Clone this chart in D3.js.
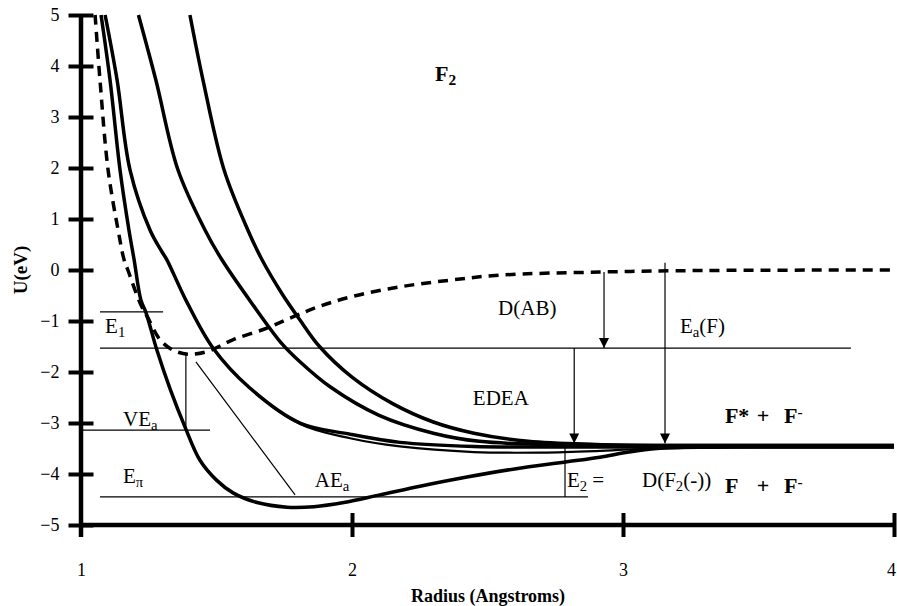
<html>
<head>
<script src="https://d3js.org/d3.v7.min.js"></script>
<style>
body { margin: 0; background: white; }
text { font-family: "Liberation Serif", "Times New Roman", Times, serif; fill: black; }
.curve { fill: none; stroke: black; stroke-width: 3.5; stroke-linejoin: round; }
.thin { stroke: black; stroke-width: 1.2; fill: none; }
.lbl { font-size: 21px; }
.big { font-size: 22px; font-weight: bold; }
</style>
</head>
<body>
<svg width="897" height="606"></svg>
<script>
// potential curves, [radius, energy]
var ground = [[1.074,5],[1.107,3.73],[1.144,1.96],[1.177,0.78],[1.196,0.2],[1.221,-0.59],[1.24,-0.84],[1.28,-1.57],[1.33,-2.35],[1.384,-3.08],[1.439,-3.73],[1.5,-4.12],[1.561,-4.37],[1.65,-4.56],[1.76,-4.65],[1.86,-4.64],[1.97,-4.56],[2.103,-4.41],[2.26,-4.23],[2.424,-4.06],[2.6,-3.9],[2.793,-3.76],[2.915,-3.67],[3.02,-3.57],[3.125,-3.5],[3.3,-3.47],[4,-3.46]];
var neutral = [[1.052,5],[1.07,3.73],[1.10,1.96],[1.137,0.78],[1.159,0.2],[1.173,0],[1.218,-0.65],[1.247,-0.94],[1.292,-1.37],[1.339,-1.57],[1.395,-1.65],[1.465,-1.6],[1.56,-1.37],[1.686,-1.14],[1.782,-0.92],[1.871,-0.73],[1.993,-0.53],[2.177,-0.33],[2.362,-0.2],[2.546,-0.1],[2.915,-0.04],[3.3,-0.01],[4,0]];
var stateB1 = [[1.089,5],[1.133,3.73],[1.181,1.96],[1.255,0.78],[1.295,0.39],[1.317,0.2],[1.387,-0.59],[1.487,-1.53],[1.62,-2.3],[1.808,-3.0],[1.993,-3.22],[2.177,-3.38],[2.45,-3.46],[2.8,-3.47],[4,-3.47]];
var stateB2 = [[1.089,5],[1.133,3.73],[1.181,1.96],[1.255,0.78],[1.295,0.39],[1.317,0.2],[1.387,-0.59],[1.487,-1.53],[1.62,-2.3],[1.808,-3.02],[1.993,-3.3],[2.177,-3.46],[2.45,-3.57],[2.7,-3.58],[2.9,-3.55],[3.1,-3.5],[3.4,-3.48],[4,-3.48]];
var stateC = [[1.212,5],[1.276,3.73],[1.358,1.96],[1.458,0.78],[1.52,0.2],[1.63,-0.65],[1.742,-1.45],[1.808,-1.8],[1.919,-2.29],[2.1,-2.85],[2.3,-3.2],[2.47,-3.36],[2.7,-3.42],[3,-3.44],[4,-3.44]];
var stateD = [[1.402,5],[1.45,3.73],[1.528,1.96],[1.616,0.78],[1.668,0.2],[1.74,-0.45],[1.808,-0.98],[1.88,-1.5],[2.0,-2.1],[2.15,-2.62],[2.3,-2.98],[2.45,-3.2],[2.65,-3.36],[2.9,-3.42],[3.2,-3.44],[4,-3.44]];

// reference levels and arrows
var levels = [[1.07,1.303,-0.82],[1.07,3.841,-1.53],[1.007,1.476,-3.14],[1.07,2.871,-4.45]];
var drops = [[1.387,-1.65,-3.12],[2.786,-3.49,-4.45]];
var slant = [[1.424,-1.80],[1.79,-4.41]];
var arrows = [[2.93,-0.04,-1.53],[2.82,-1.53,-3.40],[3.155,0.14,-3.40]];

var xTicks = [1,2,3,4];
var yTicks = [5,4,3,2,1,0,-1,-2,-3,-4,-5];

var svg = d3.select("svg");
var x = d3.scaleLinear().domain([1,4]).range([81,894]);
var y = d3.scaleLinear().domain([-5,5]).range([525,15]);

svg.append("defs").append("marker")
  .attr("id","head").attr("viewBox","0 0 10 10")
  .attr("refX",10).attr("refY",5)
  .attr("markerUnits","userSpaceOnUse")
  .attr("markerWidth",10).attr("markerHeight",10)
  .attr("orient","auto")
  .append("path").attr("d","M0,0L10,5L0,10Z").attr("fill","black");

// thin annotation lines
levels.forEach(function(d){
  svg.append("line").attr("class","thin")
    .attr("x1",x(d[0])).attr("x2",x(d[1])).attr("y1",y(d[2])).attr("y2",y(d[2]));
});
drops.forEach(function(d){
  svg.append("line").attr("class","thin")
    .attr("x1",x(d[0])).attr("x2",x(d[0])).attr("y1",y(d[1])).attr("y2",y(d[2]));
});
svg.append("line").attr("class","thin")
  .attr("x1",x(slant[0][0])).attr("y1",y(slant[0][1]))
  .attr("x2",x(slant[1][0])).attr("y2",y(slant[1][1]));
arrows.forEach(function(d){
  svg.append("line").attr("class","thin")
    .attr("x1",x(d[0])).attr("x2",x(d[0])).attr("y1",y(d[1])).attr("y2",y(d[2]))
    .attr("marker-end","url(#head)");
});

var line = d3.line().x(function(d){return x(d[0]);}).y(function(d){return y(d[1]);})
  .curve(d3.curveCatmullRom.alpha(0.5));

[stateD, stateC, stateB1, ground].forEach(function(s){
  svg.append("path").attr("class","curve").attr("d",line(s));
});
svg.append("path").attr("class","curve").attr("d",line(stateB2)).style("stroke-width",2.2);
svg.append("path").attr("class","curve").attr("d",line(neutral))
  .style("stroke-dasharray","10,7");

// axes
var ya = svg.append("g").attr("transform","translate(81,0)")
  .call(d3.axisLeft(y).tickValues(yTicks).tickSize(12.5).tickPadding(9)
        .tickFormat(function(d){ return d < 0 ? "\u2212" + (-d) : d; }));
ya.select(".domain").remove();
ya.selectAll(".tick line").attr("x2",-12.5).attr("x1",12.5).attr("stroke-width",4);
ya.selectAll("text").attr("font-size",18);
svg.append("line").attr("x1",81).attr("x2",81).attr("y1",y(5)).attr("y2",y(-5)+12)
  .attr("stroke","black").attr("stroke-width",4.5);

var xa = svg.append("g").attr("transform","translate(0,525)")
  .call(d3.axisBottom(x).tickValues(xTicks).tickSize(12).tickPadding(26)
        .tickFormat(d3.format("d")));
xa.select(".domain").remove();
xa.selectAll(".tick line").attr("y1",-12).attr("y2",12).attr("stroke-width",4)
  .filter(function(d){ return d === 1; }).remove();
xa.selectAll("text").attr("font-size",18)
  .filter(function(d){ return d === 4; }).attr("dx",-3);
svg.append("line").attr("x1",x(1)).attr("x2",x(4)).attr("y1",y(-5)).attr("y2",y(-5))
  .attr("stroke","black").attr("stroke-width",4.5);

svg.append("text").attr("x",488).attr("y",602).attr("text-anchor","middle")
  .attr("font-weight","bold").attr("font-size",18).text("Radius (Angstroms)");
svg.append("text").attr("transform","translate(27,270) rotate(-90)").attr("text-anchor","middle")
  .attr("font-weight","bold").attr("font-size",19).text("U(eV)");

// labels
function label(r, u, cls, parts) {
  var t = svg.append("text").attr("class",cls).attr("x",x(r)).attr("y",y(u));
  parts.forEach(function(p){
    var s = t.append("tspan").text(p[0]);
    if (p[1] === "sub") s.attr("baseline-shift","-25%").attr("font-size","70%");
    if (p[1] === "sup") s.attr("baseline-shift","40%").attr("font-size","70%");
  });
}
label(2.306, 3.71, "big", [["F"],["2","sub"]]);
label(1.089, -1.235, "lbl", [["E"],["1","sub"]]);
label(1.155, -3.06, "lbl", [["VE"],["a","sub"]]);
label(1.155, -4.18, "lbl", [["E"],["\u03c0","sub"]]);
label(1.863, -4.25, "lbl", [["AE"],["a","sub"]]);
label(2.539, -0.88, "lbl", [["D(AB)"]]);
label(2.446, -2.65, "lbl", [["EDEA"]]);
label(3.21, -1.235, "lbl", [["E"],["a","sub"],["(F)"]]);
label(2.793, -4.25, "lbl", [["E"],["2","sub"],[" ="]]);
label(3.07, -4.25, "lbl", [["D(F"],["2","sub"],["(-))"]]);
label(3.376, -3.0, "big", [["F*"]]);
label(3.494, -3.0, "big", [["+"]]);
label(3.594, -3.0, "big", [["F"],["-","sup"]]);
label(3.376, -4.37, "big", [["F"]]);
label(3.494, -4.37, "big", [["+"]]);
label(3.594, -4.37, "big", [["F"],["-","sup"]]);
</script>
</body>
</html>
